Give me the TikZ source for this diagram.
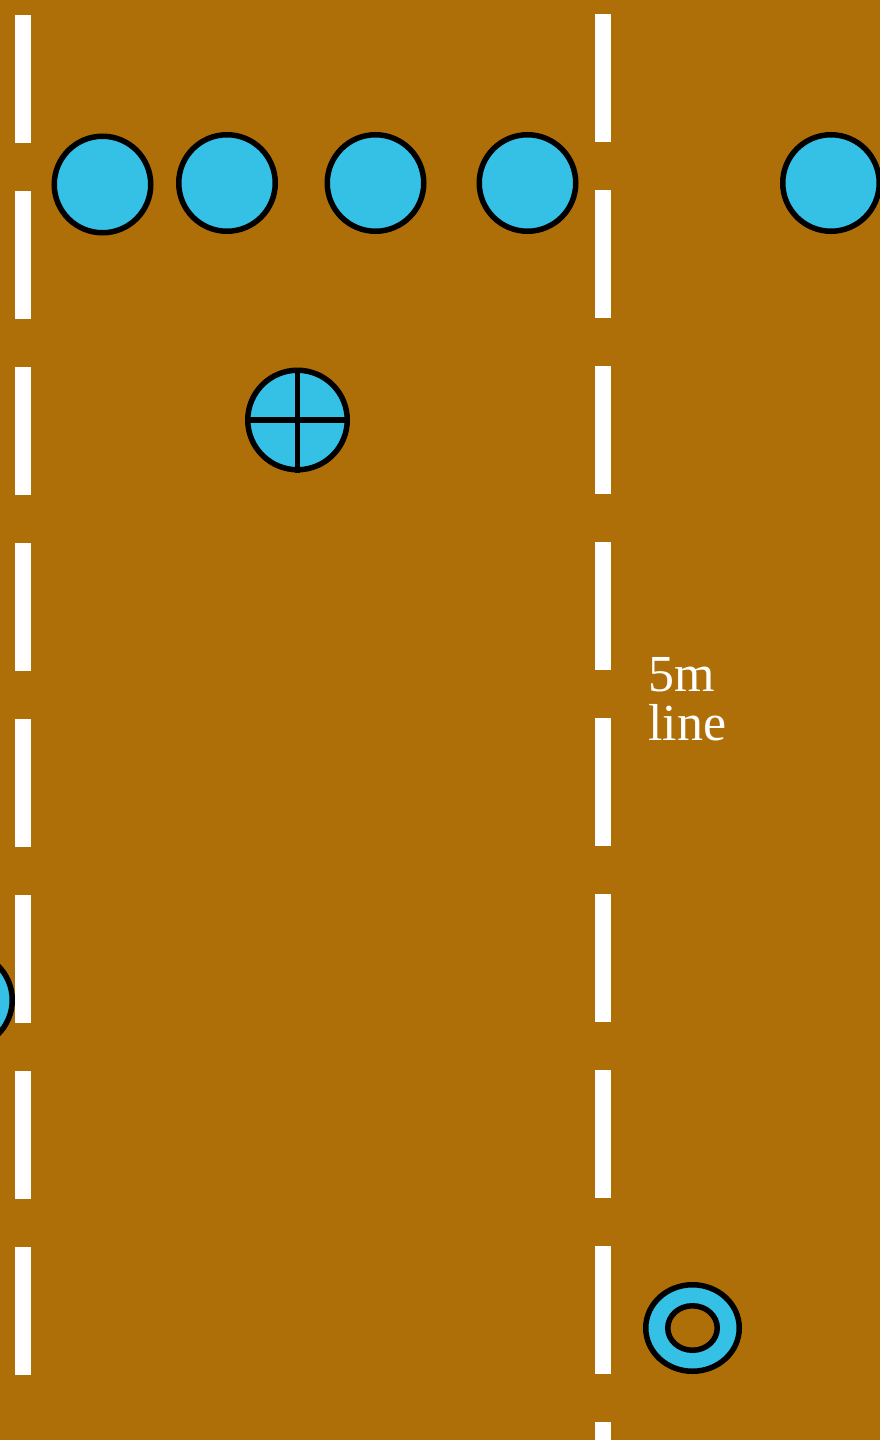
\documentclass[tikz,border=0pt]{standalone}
\usepackage{fontspec}
\setmainfont{Liberation Serif}
\usetikzlibrary{shapes.geometric, positioning}

\definecolor{pitch}{HTML}{AE6E08}
\definecolor{cap}{HTML}{35C0E6}

\begin{document}
\begin{tikzpicture}[
    x=1pt, y=-1pt,
    player/.style={circle, draw=black, fill=cap, line width=5.5pt, minimum size=96.5pt, inner sep=0pt},
    keeper/.style={player, minimum size=99.5pt},
    ring/.style={ellipse, draw=black, line width=5.5pt, inner sep=0pt},
    fieldline/.style={white, line width=16pt, dash pattern=on 128pt off 48pt}
]

% background
\useasboundingbox (0,0) rectangle (880,1440);
\fill[pitch] (0,0) rectangle (880,1440);

% lines
\foreach \lx/\ys/\ye in {23/15/1375, 603/14/1440}
    \draw[fieldline] (\lx,\ys) -- (\lx,\ye);

\node[white, font=\fontsize{52}{49}\selectfont, align=left, anchor=north west, inner sep=0pt] (lbl) at (648,657.5) {5m\\line};

% players
\node[player] (p1) at (102.5,184.5) {};
\node[player] (p2) at (227,183) {};
\node[player] (p3) at (375.5,183) {};
\node[player] (p4) at (527.5,183) {};
\node[player] (p5) at (831,183) {};
\node[player] (p6) at (-36,1000) {};

% goalkeeper
\node[keeper] (gk) at (297.5,420) {};
\draw[line width=5.5pt] (gk.north) -- (gk.south);
\draw[line width=5.5pt] (gk.west) -- (gk.east);

% ball
\node[ring, fill=cap, minimum width=93.5pt, minimum height=86.5pt] (ball) at (692.5,1328) {};
\node[ring, fill=pitch, minimum width=49.5pt, minimum height=44.5pt] (hole) at (ball.center) {};

\end{tikzpicture}
\end{document}
